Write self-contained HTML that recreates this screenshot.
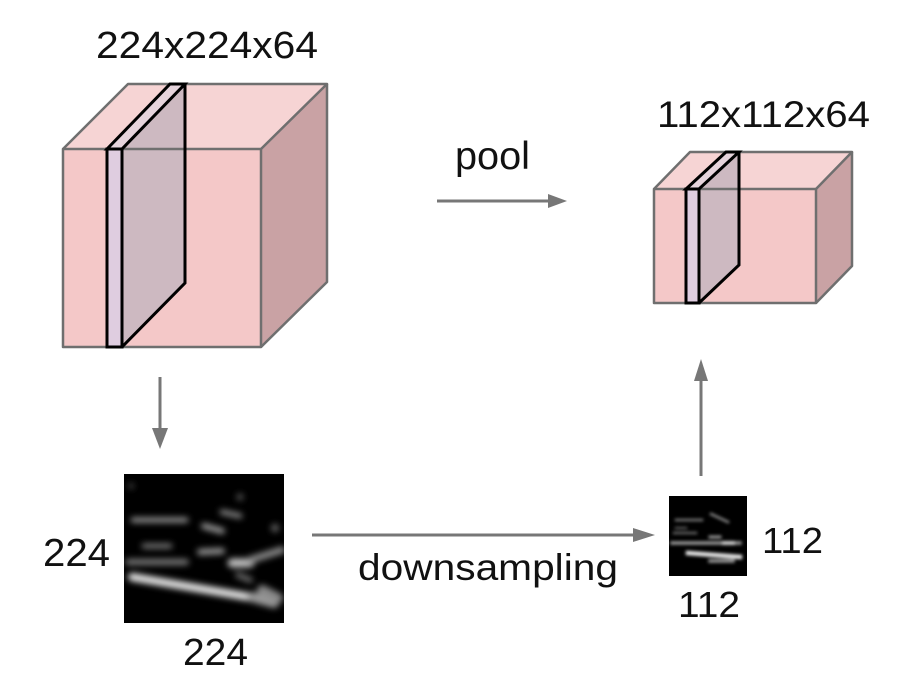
<!DOCTYPE html>
<html><head><meta charset="utf-8"><style>
html,body{margin:0;padding:0;background:#fff;}
svg{display:block;}
text{font-family:"Liberation Sans",Arial,sans-serif;fill:#111;}
</style></head><body>
<svg width="916" height="688" viewBox="0 0 916 688" xmlns="http://www.w3.org/2000/svg">
<defs>
<filter id="b1" x="-50%" y="-50%" width="200%" height="200%"><feGaussianBlur stdDeviation="3.2"/></filter>
<filter id="b2" x="-50%" y="-50%" width="200%" height="200%"><feGaussianBlur stdDeviation="1.6"/></filter>
<clipPath id="c1"><rect x="124" y="474" width="160" height="149"/></clipPath>
<clipPath id="c2"><rect x="669" y="496" width="78" height="80"/></clipPath>
</defs>
<rect width="916" height="688" fill="#fff"/>

<!-- Big cube -->
<rect x="63" y="149" width="198" height="198" fill="#f4c8c8"/>
<polygon points="63,149 128,84 327,84 261,149" fill="#f6d4d4"/>
<polygon points="261,149 327,84 327,282 261,347" fill="#c9a2a4"/>
<polygon points="122,149 185,84 185,283 122,347" fill="#cdb9c1"/>
<polygon points="107,149 170,84 185,84 122,149" fill="#e6d4dc"/>
<rect x="107" y="149" width="15" height="198" fill="#dfcde0"/>
<g fill="none" stroke="#6f6f6f" stroke-width="2.5" stroke-linejoin="round">
<rect x="63" y="149" width="198" height="198"/>
<polyline points="63,149 128,84 327,84 261,149"/>
<polyline points="327,84 327,282 261,347"/>
</g>
<g fill="none" stroke="#000" stroke-width="3" stroke-linejoin="miter">
<rect x="107" y="149" width="15" height="198"/>
<polygon points="107,149 170,84 185,84 122,149"/>
<polyline points="185,84 185,283 122,347"/>
</g>

<!-- Small cube -->
<rect x="654" y="189" width="162" height="114" fill="#f4c8c8"/>
<polygon points="654,189 690,152 852,152 816,189" fill="#f6d4d4"/>
<polygon points="816,189 852,152 852,266 816,303" fill="#c9a2a4"/>
<polygon points="699,189 739,152 739,265 699,303" fill="#cdb9c1"/>
<polygon points="686,189 726,152 739,152 699,189" fill="#e6d4dc"/>
<rect x="686" y="189" width="13" height="114" fill="#dfcde0"/>
<g fill="none" stroke="#6f6f6f" stroke-width="2.5" stroke-linejoin="round">
<rect x="654" y="189" width="162" height="114"/>
<polyline points="654,189 690,152 852,152 816,189"/>
<polyline points="852,152 852,266 816,303"/>
</g>
<g fill="none" stroke="#000" stroke-width="3">
<rect x="686" y="189" width="13" height="114"/>
<polygon points="686,189 726,152 739,152 699,189"/>
<polyline points="739,152 739,265 699,303"/>
</g>

<!-- Big activation image -->
<rect x="124" y="474" width="160" height="149" fill="#000"/>
<g clip-path="url(#c1)">
<g filter="url(#b1)" stroke-linecap="round" fill="none">
<line x1="133" y1="520" x2="186" y2="520" stroke="#9a9a9a" stroke-width="5"/>
<line x1="204" y1="526" x2="222" y2="531" stroke="#9a9a9a" stroke-width="6"/>
<line x1="222" y1="512" x2="240" y2="516" stroke="#8a8a8a" stroke-width="5"/>
<line x1="144" y1="546" x2="170" y2="546" stroke="#7a7a7a" stroke-width="5"/>
<line x1="200" y1="552" x2="222" y2="551" stroke="#9a9a9a" stroke-width="6"/>
<line x1="128" y1="562" x2="186" y2="562" stroke="#7a7a7a" stroke-width="6"/>
<line x1="232" y1="563" x2="250" y2="563" stroke="#c0c0c0" stroke-width="9"/>
<line x1="250" y1="560" x2="282" y2="550" stroke="#8a8a8a" stroke-width="7"/>
<line x1="132" y1="577" x2="255" y2="598" stroke="#e8e8e8" stroke-width="8"/>
<line x1="252" y1="597" x2="274" y2="603" stroke="#9a9a9a" stroke-width="10"/>
<line x1="262" y1="590" x2="278" y2="598" stroke="#8a8a8a" stroke-width="10"/>
<circle cx="275" cy="528" r="4" fill="#666" stroke="none"/>
<circle cx="240" cy="497" r="3.5" fill="#555" stroke="none"/>
<circle cx="131" cy="486" r="3" fill="#444" stroke="none"/>
<line x1="238" y1="575" x2="250" y2="580" stroke="#666" stroke-width="6"/>
</g>
</g>

<!-- Small activation image -->
<rect x="669" y="496" width="78" height="80" fill="#000"/>
<g clip-path="url(#c2)">
<g filter="url(#b2)" stroke-linecap="square" fill="none">
<line x1="676" y1="520" x2="702" y2="520" stroke="#7a7a7a" stroke-width="2.5"/>
<line x1="711" y1="514" x2="728" y2="522" stroke="#8a8a8a" stroke-width="2.5"/>
<line x1="674" y1="533" x2="696" y2="533" stroke="#666" stroke-width="2.5"/>
<line x1="710" y1="537" x2="720" y2="537" stroke="#9a9a9a" stroke-width="3"/>
<line x1="672" y1="543" x2="740" y2="543" stroke="#9a9a9a" stroke-width="3.5"/>
<line x1="724" y1="543" x2="733" y2="543" stroke="#e0e0e0" stroke-width="3.5"/>
<line x1="688" y1="553" x2="740" y2="557" stroke="#e8e8e8" stroke-width="4.5"/>
<line x1="710" y1="561" x2="733" y2="561" stroke="#9a9a9a" stroke-width="3.5"/>
<line x1="676" y1="528" x2="686" y2="528" stroke="#555" stroke-width="2.5"/>
</g>
</g>

<!-- Arrows -->
<g stroke="#777" stroke-width="3" fill="none">
<line x1="437" y1="201" x2="550" y2="201"/>
<line x1="160" y1="377" x2="160" y2="430"/>
<line x1="312" y1="535" x2="636" y2="535"/>
<line x1="701" y1="476" x2="701" y2="378"/>
</g>
<g fill="#777">
<polygon points="548,194 567,201 548,208"/>
<polygon points="152,428 160,449 168,428"/>
<polygon points="633,528 655,535 633,542"/>
<polygon points="694,381 701,359 708,381"/>
</g>

<!-- Labels -->
<text x="96" y="58" font-size="38" textLength="222" lengthAdjust="spacingAndGlyphs">224x224x64</text>
<text x="657" y="127" font-size="37" textLength="213" lengthAdjust="spacingAndGlyphs">112x112x64</text>
<text x="455" y="169" font-size="39" textLength="75" lengthAdjust="spacingAndGlyphs">pool</text>
<text x="358" y="580" font-size="37" textLength="260" lengthAdjust="spacingAndGlyphs">downsampling</text>
<text x="43" y="566" font-size="39" textLength="67" lengthAdjust="spacingAndGlyphs">224</text>
<text x="183" y="665" font-size="38" textLength="65" lengthAdjust="spacingAndGlyphs">224</text>
<text x="762" y="553" font-size="36" textLength="61" lengthAdjust="spacingAndGlyphs">112</text>
<text x="678" y="617" font-size="36" textLength="62" lengthAdjust="spacingAndGlyphs">112</text>
</svg>
</body></html>
